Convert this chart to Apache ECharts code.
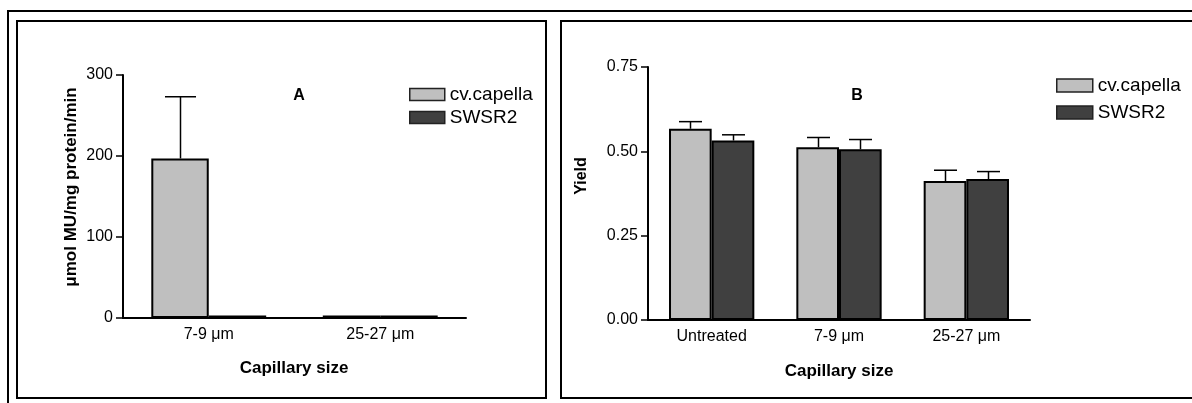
<!DOCTYPE html>
<html>
<head>
<meta charset="utf-8">
<script src="https://cdn.jsdelivr.net/npm/echarts@6/dist/echarts.min.js"></script>
<style>
  html, body { margin: 0; padding: 0; background: #fff; }
  #chart { width: 1192px; height: 403px; }
</style>
</head>
<body>
<div id="chart"></div>
<script>
// Panel A: GUS activity by capillary size
const catsA = ['7-9 μm', '25-27 μm'];
const capellaA = [197, 3];
const capellaErrA = [76, 0];
const swsr2A = [3, 3];
const swsr2ErrA = [0, 0];
const ticksA = { min: 0, max: 300, interval: 100 };

// Panel B: yield by capillary size
const catsB = ['Untreated', '7-9 μm', '25-27 μm'];
const capellaB = [0.567, 0.512, 0.412];
const capellaErrB = [0.021, 0.029, 0.032];
const swsr2B = [0.532, 0.506, 0.418];
const swsr2ErrB = [0.017, 0.029, 0.022];
const ticksB = { min: 0, max: 0.75, interval: 0.25 };

const seriesNames = ['cv.capella', 'SWSR2'];
const LIGHT = '#bfbfbf';
const DARK = '#404040';
const FONT = "'Liberation Sans', Arial, Helvetica, sans-serif";
const GAP = 0.33;

const chart = echarts.init(document.getElementById('chart'), null, { renderer: 'canvas' });

// Upper error bar: stem from the bar top plus a short cap
function errorBars(side) {
  return function (params, api) {
    const idx = api.value(0);
    const v = api.value(1);
    const e = api.value(2);
    if (!e) return null;
    const base = api.coord([idx, v]);
    const top = api.coord([idx, v + e]);
    const band = api.size([1, 0])[0];
    const bw = band * (1 - GAP) / 2;
    const cx = Math.round(base[0] + side * bw / 2) + 0.5;
    const capHalf = bw * 0.27;
    const style = { stroke: '#000', lineWidth: 1.5 };
    return {
      type: 'group',
      children: [
        { type: 'line', shape: { x1: cx, y1: base[1], x2: cx, y2: top[1] }, style },
        { type: 'line', shape: { x1: cx - capHalf, y1: top[1], x2: cx + capHalf, y2: top[1] }, style }
      ]
    };
  };
}

function errData(vals, errs) {
  return vals.map((v, i) => [i, v, errs[i]]);
}

const axisLineStyle = { color: '#000', width: 2 };
const tickLabel = { color: '#000', fontFamily: FONT, fontSize: 16 };

function yAxisFor(gridIndex, ticks, fmt) {
  return {
    type: 'value', gridIndex,
    min: ticks.min, max: ticks.max, interval: ticks.interval,
    axisLine: { show: true, lineStyle: axisLineStyle },
    axisTick: { show: true, length: 7, lineStyle: { color: '#000', width: 1.5 } },
    axisLabel: Object.assign({ margin: 10, formatter: fmt }, tickLabel),
    splitLine: { show: false }
  };
}

function xAxisFor(gridIndex, cats) {
  return {
    type: 'category', gridIndex, data: cats,
    axisLine: { show: true, lineStyle: axisLineStyle },
    axisTick: { show: false },
    axisLabel: Object.assign({ margin: 9 }, tickLabel),
    splitLine: { show: false }
  };
}

function barSeries(name, data, color, gridIdx) {
  return {
    name, type: 'bar', xAxisIndex: gridIdx, yAxisIndex: gridIdx,
    data, barGap: '0%', barCategoryGap: (GAP * 100) + '%',
    itemStyle: { color, borderColor: '#000', borderWidth: 2 },
    emphasis: { disabled: true },
    silent: true, z: 2
  };
}

function errSeries(data, side, gridIdx) {
  return {
    type: 'custom', xAxisIndex: gridIdx, yAxisIndex: gridIdx,
    data, renderItem: errorBars(side), silent: true, z: 3
  };
}

function legendAt(left, top, itemW, itemH, gap) {
  return {
    data: seriesNames, orient: 'vertical', left, top, padding: 0,
    itemWidth: itemW, itemHeight: itemH, itemGap: gap,
    icon: 'rect', selectedMode: false,
    itemStyle: { borderColor: '#222', borderWidth: 1.5 },
    textStyle: { color: '#000', fontFamily: FONT, fontSize: 19 }
  };
}

const titleStyle = { fill: '#000', font: 'bold 16px ' + FONT, textAlign: 'center', textVerticalAlign: 'middle' };

const option = {
  animation: false,
  backgroundColor: '#fff',
  grid: [
    { left: 123, top: 75, width: 343, height: 243, containLabel: false },
    { left: 648, top: 67, width: 382, height: 253, containLabel: false }
  ],
  xAxis: [xAxisFor(0, catsA), xAxisFor(1, catsB)],
  yAxis: [
    yAxisFor(0, ticksA, v => String(v)),
    yAxisFor(1, ticksB, v => v.toFixed(2))
  ],
  legend: [
    legendAt(409, 85, 35, 12, 4),
    legendAt(1056, 76, 36, 13, 8)
  ],
  series: [
    barSeries(seriesNames[0], capellaA, LIGHT, 0),
    barSeries(seriesNames[1], swsr2A, DARK, 0),
    errSeries(errData(capellaA, capellaErrA), -1, 0),
    errSeries(errData(swsr2A, swsr2ErrA), 1, 0),
    barSeries(seriesNames[0], capellaB, LIGHT, 1),
    barSeries(seriesNames[1], swsr2B, DARK, 1),
    errSeries(errData(capellaB, capellaErrB), -1, 1),
    errSeries(errData(swsr2B, swsr2ErrB), 1, 1)
  ],
  graphic: [
    // outer frame and the two panel boxes
    { type: 'rect', shape: { x: 8, y: 11, width: 1200, height: 400 }, style: { fill: null, stroke: '#000', lineWidth: 2 }, silent: true, z: -1 },
    { type: 'rect', shape: { x: 17, y: 21, width: 529, height: 377 }, style: { fill: null, stroke: '#000', lineWidth: 2 }, silent: true, z: -1 },
    { type: 'rect', shape: { x: 561, y: 21, width: 640, height: 377 }, style: { fill: null, stroke: '#000', lineWidth: 2 }, silent: true, z: -1 },
    // panel letters
    { type: 'text', x: 299, y: 96, style: Object.assign({ text: 'A' }, titleStyle) },
    { type: 'text', x: 857, y: 96, style: Object.assign({ text: 'B' }, titleStyle) },
    // axis titles
    { type: 'text', x: 294, y: 368, style: Object.assign({ text: 'Capillary size' }, titleStyle, { font: 'bold 17px ' + FONT }) },
    { type: 'text', x: 839, y: 371, style: Object.assign({ text: 'Capillary size' }, titleStyle, { font: 'bold 17px ' + FONT }) },
    { type: 'text', x: 71, y: 187, rotation: Math.PI / 2, style: Object.assign({ text: 'μmol MU/mg protein/min' }, titleStyle, { font: 'bold 17px ' + FONT }) },
    { type: 'text', x: 582, y: 176, rotation: Math.PI / 2, style: Object.assign({ text: 'Yield' }, titleStyle, { font: 'bold 16px ' + FONT }) }
  ]
};

chart.setOption(option);
</script>
</body>
</html>
